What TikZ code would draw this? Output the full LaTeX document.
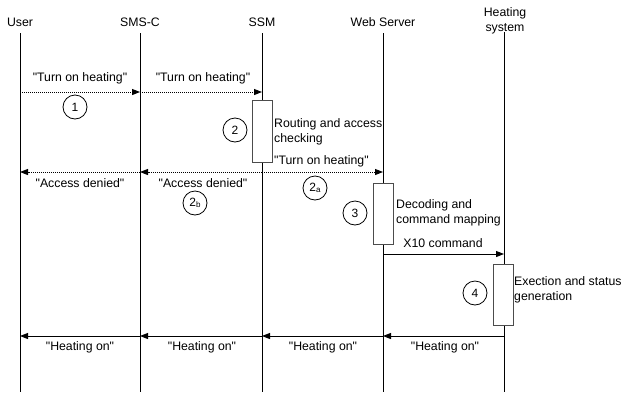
\documentclass[tikz,border=0pt]{standalone}
\usepackage{fontspec}
\setmainfont{Liberation Sans}
\usetikzlibrary{arrows.meta}
\newcommand{\qq}[1]{\textquotedbl#1\textquotedbl}
\begin{document}
\begin{tikzpicture}[x=1pt,y=-1pt,
  lbl/.style={font=\fontsize{12.3}{14.5}\selectfont, inner sep=0pt},
  life/.style={draw=black, line width=1pt},
  msg/.style={line width=1pt, -{Triangle[length=8pt,width=6pt]}},
  dmsg/.style={msg, densely dotted},
  act/.style={draw=gray!60!black, fill=white, line width=0.7pt, minimum width=20pt, inner sep=0pt},
  num/.style={circle, draw, line width=0.8pt, minimum size=24pt, inner sep=0pt, font=\fontsize{12}{13}\selectfont}
]
\useasboundingbox (0,0) rectangle (627,392);
% headers
\node[lbl] (hU) at (20,22) {User};
\node[lbl] (hC) at (140,22) {SMS-C};
\node[lbl] (hS) at (262,22) {SSM};
\node[lbl] (hW) at (383,22) {Web Server};
\node[lbl, align=center] (hH) at (505,21) {Heating\\system};
% lifelines
\coordinate (uT) at (20,33);  \coordinate (uB) at (20,392);
\coordinate (cT) at (140,33); \coordinate (cB) at (140,392);
\coordinate (sT) at (262,33); \coordinate (sB) at (262,392);
\coordinate (wT) at (383,33); \coordinate (wB) at (383,392);
\coordinate (hT) at (504,32); \coordinate (hB) at (504,392);
\draw[life] (uT) -- (uB);
\draw[life] (cT) -- (cB);
\draw[life] (sT) -- (sB);
\draw[life] (wT) -- (wB);
\draw[life] (hT) -- (hB);
% activation boxes
\node[act, minimum height=62pt] (aS) at (262,131) {};
\node[act, minimum height=61pt] (aW) at (383,213.5) {};
\node[act, minimum height=61pt] (aH) at (503,294.5) {};
% message points
\coordinate (u1) at (20,92);  \coordinate (c1) at (140,92); \coordinate (s1) at (262,92);
\coordinate (u2) at (20,172); \coordinate (c2) at (140,172); \coordinate (s2) at (262,172); \coordinate (w2) at (383,172);
\coordinate (w3) at (383,254); \coordinate (h3) at (504,254);
\coordinate (u4) at (20,336); \coordinate (c4) at (140,336); \coordinate (s4) at (262,336); \coordinate (w4) at (383,336); \coordinate (h4) at (504,336);
% messages
\draw[dmsg] (u1) -- (c1);
\draw[dmsg] (c1) -- (s1);
\draw[dmsg] (s2) -- (w2);
\draw[dmsg] (s2) -- (c2);
\draw[dmsg] (c2) -- (u2);
\draw[msg] (w3) -- (h3);
\draw[msg] (h4) -- (w4);
\draw[msg] (w4) -- (s4);
\draw[msg] (s4) -- (c4);
\draw[msg] (c4) -- (u4);
% message labels
\node[lbl] (m1) at (80,78) {\qq{Turn on heating}};
\node[lbl] (m2) at (203,78) {\qq{Turn on heating}};
\node[lbl, anchor=west] (m2a) at (274,161) {\qq{Turn on heating}};
\node[lbl] (m2b1) at (80,183) {\qq{Access denied}};
\node[lbl] (m2b2) at (203,183) {\qq{Access denied}};
\node[lbl] (m3) at (443,243) {X10 command};
\node[lbl] (m41) at (80,347) {\qq{Heating on}};
\node[lbl] (m42) at (202,347) {\qq{Heating on}};
\node[lbl] (m43) at (323,347) {\qq{Heating on}};
\node[lbl] (m44) at (445,347) {\qq{Heating on}};
% activation texts
\node[lbl, anchor=west, align=left] (tS) at (274,132) {Routing and access\\checking};
\node[lbl, anchor=west, align=left] (tW) at (396,213) {Decoding and\\command mapping};
\node[lbl, anchor=west, align=left] (tH) at (514,290) {Exection and status\\generation};
% step numbers
\node[num] (n1) at (75,107) {1};
\node[num] (n2) at (235,130) {2};
\node[num] (n2a) at (315,188) {2\raisebox{-0.5pt}{\fontsize{8}{8}\selectfont a}};
\node[num] (n2b) at (195,203) {2\raisebox{-0.5pt}{\fontsize{8}{8}\selectfont b}};
\node[num] (n3) at (355,213) {3};
\node[num] (n4) at (475,293) {4};
\end{tikzpicture}
\end{document}
